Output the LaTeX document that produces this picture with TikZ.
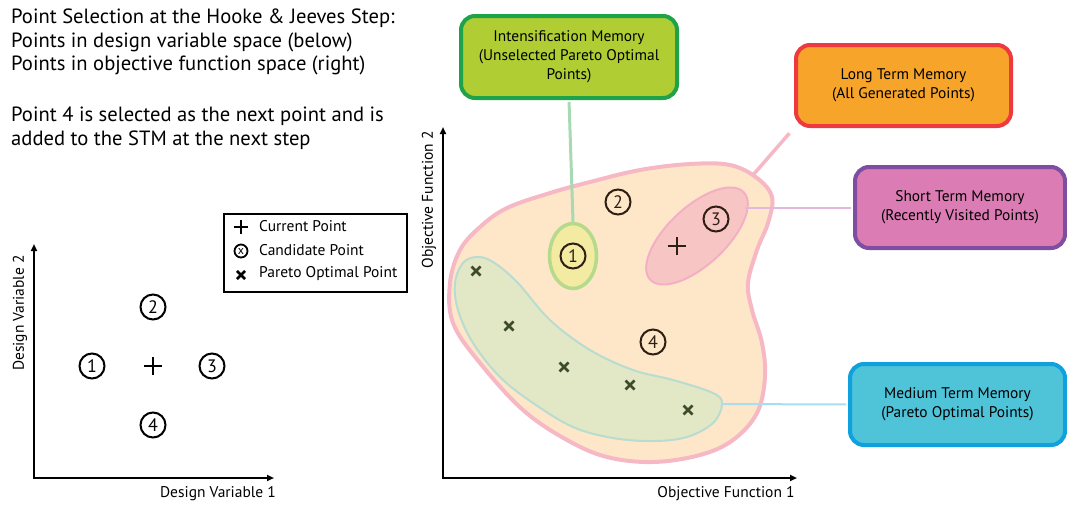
\documentclass[tikz,border=0pt]{standalone}
\usepackage{fontspec}
\setmainfont{PT Sans}
\usetikzlibrary{arrows.meta,shapes.geometric}

\definecolor{intfill}{HTML}{B0CD34}
\definecolor{intdraw}{HTML}{1FA34A}
\definecolor{ltmfill}{HTML}{F7A42A}
\definecolor{ltmdraw}{HTML}{EE3A3F}
\definecolor{stmfill}{HTML}{DC7CB4}
\definecolor{stmdraw}{HTML}{7E4FA0}
\definecolor{mtmfill}{HTML}{4FC3D8}
\definecolor{mtmdraw}{HTML}{0FA0DE}
\definecolor{blobfill}{HTML}{FDE7C8}
\definecolor{blobdraw}{HTML}{F6B8C4}
\definecolor{parfill}{HTML}{E2E8C6}
\definecolor{pardraw}{HTML}{B8DCD0}
\definecolor{recfill}{HTML}{F7C6C4}
\definecolor{recdraw}{HTML}{F3AFC3}
\definecolor{imfill}{HTML}{F4EBA2}
\definecolor{imdraw}{HTML}{B5DA8C}
\definecolor{imline}{HTML}{A8D9B2}
\definecolor{stmline}{HTML}{E2B8DE}
\definecolor{mtmline}{HTML}{A9DDF0}
\definecolor{markbrown}{HTML}{2E1E14}
\definecolor{markolive}{HTML}{3D4A2C}

\tikzset{
  axis/.style = {line width=2.2pt, arrows={Triangle[length=7pt,width=6pt]-Triangle[length=7pt,width=6pt]}},
  axis label/.style = {inner sep=0pt, font=\fontsize{15.5}{17}\selectfont},
  memory/.style = {draw, rectangle, rounded corners=14pt, line width=4pt, align=center, inner sep=0pt,
    font=\fontsize{15.4}{19}\selectfont},
  cand/.style = {circle, draw, line width=2pt, minimum size=25pt, inner sep=0pt,
    font=\fontsize{18}{18}\selectfont},
  legend text/.style = {anchor=west, inner sep=0pt, font=\fontsize{15.5}{17}\selectfont},
  top text/.style = {anchor=north west, align=left, inner sep=0pt, font=\fontsize{20.6}{23.5}\selectfont},
  current/.pic = {
    \draw[line width=2.6pt, #1] (-9,0) -- (9,0) (0,-9) -- (0,9);
  },
  pareto/.pic = {
    \draw[line width=2.6pt, #1] (-4.5,-4.5) -- (4.5,4.5) (-4.5,4.5) -- (4.5,-4.5);
  }
}

\begin{document}
\begin{tikzpicture}[x=1pt, y=-1pt]
  \useasboundingbox (0,0) rectangle (1067,504);

  % text at the top left
  \node[top text] (title) at (11,9)
    {Point Selection at the Hooke \& Jeeves Step:\\ Points in design variable space (below)\\ Points in objective function space (right)};
  \node[top text] (note) at (11,107)
    {Point 4 is selected as the next point and is\\ added to the STM at the next step};

  % design variable space
  \coordinate (dv y) at (34,244);
  \coordinate (dv x) at (274,478);
  \draw[axis] (dv y) |- (dv x);
  \node[axis label] (dv1 label) at (218,494) {Design Variable 1};
  \node[axis label, rotate=90] (dv2 label) at (20,313) {Design Variable 2};

  \node[cand] (dv one) at (92,366) {1};
  \node[cand] (dv two) at (153,307) {2};
  \node[cand] (dv three) at (212,366) {3};
  \node[cand] (dv four) at (153,425) {4};
  \pic at (153,366) {current=black};

  % legend
  \node[draw, line width=2.2pt, anchor=north west, minimum width=183pt, minimum height=78pt, inner sep=0pt] (legend) at (223,213) {};
  \pic[scale=0.8] at (241,227) {current=black};
  \node[circle, draw, line width=1.8pt, minimum size=13pt, inner sep=0pt, font=\fontsize{12}{12}\selectfont] (leg cand) at (241,251) {x};
  \pic[scale=0.9] at (241,275) {pareto=black};
  \node[legend text] (leg current) at (259,226) {Current Point};
  \node[legend text] (leg candidate) at (259,250) {Candidate Point};
  \node[legend text] (leg pareto) at (259,274) {Pareto Optimal Point};

  % memory boxes
  \node[memory, draw=intdraw, fill=intfill, minimum width=216pt, minimum height=82pt] (int box) at (569,57)
    {Intensification Memory\\(Unselected Pareto Optimal\\Points)};
  \node[memory, draw=ltmdraw, fill=ltmfill, minimum width=215pt, minimum height=81pt] (ltm box) at (903.5,85.5)
    {Long Term Memory\\(All Generated Points)};
  \node[memory, draw=stmdraw, fill=stmfill, minimum width=210pt, minimum height=81pt] (stm box) at (960,207.5)
    {Short Term Memory\\(Recently Visited Points)};
  \node[memory, draw=mtmdraw, fill=mtmfill, minimum width=215pt, minimum height=81pt] (mtm box) at (957.5,404.5)
    {Medium Term Memory\\(Pareto Optimal Points)};

  % objective function space
  \coordinate (of y) at (443,127);
  \coordinate (of x) at (797,478);
  \draw[axis] (of y) |- (of x);
  \node[axis label] (of1 label) at (726,494) {Objective Function 1};
  \node[axis label, rotate=90] (of2 label) at (429,200) {Objective Function 2};

  % long term memory region
  \draw[line width=4pt, draw=blobdraw, fill=blobfill] plot[smooth cycle, tension=0.6] coordinates {
    (450,283) (460,250) (480,227) (507,208) (550,193) (590,182) (640,170) (690,164) (730,165)
    (757,178) (772,197) (768,223) (757,250) (748,283) (752,310) (762,343) (765,377) (757,413)
    (733,440) (700,455) (653,462) (607,457) (567,440) (523,410) (480,363) (453,323)};

  % medium term memory region
  \draw[line width=2pt, draw=pardraw, fill=parfill] plot[smooth cycle, tension=0.6] coordinates {
    (455,283) (463,263) (477,257) (493,262) (517,282) (550,320) (590,350) (633,370) (673,380)
    (713,393) (722,404) (713,423) (687,437) (653,441) (613,438) (573,427) (533,403) (500,377)
    (473,343) (458,310)};
  \coordinate (mtm tip) at (721,404);

  \node[ellipse, draw=imdraw, fill=imfill, line width=3.5pt, minimum width=47pt, minimum height=65pt, inner sep=0pt] (im ell) at (573,256) {};
  \node[ellipse, draw=recdraw, fill=recfill, line width=2pt, minimum width=128pt, minimum height=58pt, inner sep=0pt, rotate=43] (rec ell) at (697,236) {};
  \coordinate (ltm tip) at (753,175);

  % connectors
  \draw[line width=3pt, imline, shorten <=2pt] (int box.south) -- (im ell.north);
  \draw[line width=3.5pt, blobdraw, shorten >=7pt] (ltm tip) -- (ltm box.south west);
  \draw[line width=2pt, stmline, shorten >=2pt] (rec ell.east |- stm box.west) -- (stm box.west);
  \draw[line width=2pt, mtmline, shorten >=2pt] (mtm tip) -- (mtm box.west);

  % points
  \node[cand, markbrown] (of one) at (573,256) {1};
  \node[cand, markbrown] (of two) at (618,202) {2};
  \node[cand, markbrown] (of three) at (716,219) {3};
  \node[cand, markbrown] (of four) at (653,342) {4};
  \pic at (677,246) {current=markbrown};

  \pic at (476,271) {pareto=markolive};
  \pic at (509,326) {pareto=markolive};
  \pic at (564,367) {pareto=markolive};
  \pic at (630,385) {pareto=markolive};
  \pic at (688,410) {pareto=markolive};
\end{tikzpicture}
\end{document}
